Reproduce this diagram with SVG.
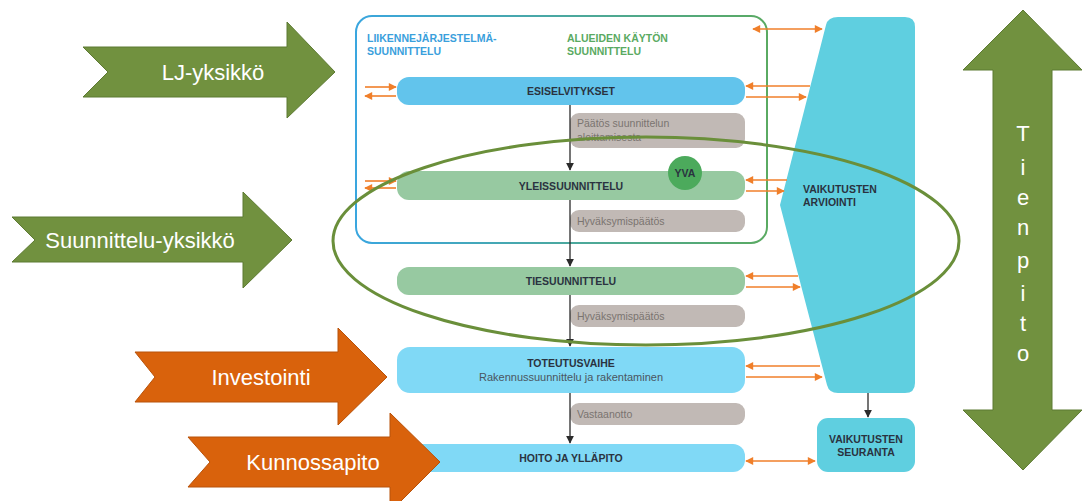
<svg xmlns="http://www.w3.org/2000/svg" width="1084" height="501" viewBox="0 0 1084 501">
  <defs>
    <linearGradient id="frameGrad" x1="0" y1="0" x2="1" y2="0">
      <stop offset="0" stop-color="#3aa6df"/>
      <stop offset="1" stop-color="#5aaa62"/>
    </linearGradient>
    <marker id="oh" viewBox="0 0 10 10" refX="9" refY="5" markerWidth="10" markerHeight="8" markerUnits="userSpaceOnUse" orient="auto-start-reverse">
      <path d="M0,0 L10,5 L0,10 z" fill="#f07f2a"/>
    </marker>
    <marker id="kh" viewBox="0 0 10 10" refX="9" refY="5" markerWidth="8" markerHeight="8" markerUnits="userSpaceOnUse" orient="auto">
      <path d="M0,0 L10,5 L0,10 z" fill="#2b2b2b"/>
    </marker>
  </defs>
  <style>
    .garrow { fill: #71913f; stroke: #5d7a32; stroke-width: 1; }
    .oarrow { fill: #d9620c; stroke: #b8520a; stroke-width: 1; }
    .alabel { font-family: "Liberation Sans", Arial, sans-serif; font-size: 22px; fill: #ffffff; text-anchor: middle; }
    .bar-text { font-family: "Liberation Sans", Arial, sans-serif; font-size: 10.5px; font-weight: bold; fill: #2a3340; text-anchor: middle; }
    .side-text { font-family: "Liberation Sans", Arial, sans-serif; font-size: 10.5px; font-weight: bold; fill: #2a3340; }
    .sub-text { font-family: "Liberation Sans", Arial, sans-serif; font-size: 11px; fill: #4a5560; text-anchor: middle; }
    .grey { fill: #c1b9b5; }
    .grey-text { font-family: "Liberation Sans", Arial, sans-serif; font-size: 10.5px; fill: #7a7470; }
    .hdr { font-family: "Liberation Sans", Arial, sans-serif; font-size: 10.5px; font-weight: bold; }
    .oline { stroke: #f07f2a; stroke-width: 1.6; fill: none; }
    .kline { stroke: #2b2b2b; stroke-width: 1.3; fill: none; }
  </style>

  <rect width="1084" height="501" fill="#ffffff"/>

  <!-- Organisation arrows on the left -->
  <g id="lj-yksikko">
    <polygon class="garrow" points="83,47 287,47 287,22 335,72 287,118 287,97 83,97 108,72"/>
    <text class="alabel" x="213" y="80">LJ-yksikkö</text>
  </g>
  <g id="suunnittelu-yksikko">
    <polygon class="garrow" points="12,217 243,217 243,192 292,240 243,288 243,262 12,262 35,240"/>
    <text class="alabel" x="140" y="248">Suunnittelu-yksikkö</text>
  </g>
  <g id="investointi">
    <polygon class="oarrow" points="135,352 338,352 338,328 387,377 338,425 338,402 135,402 155,377"/>
    <text class="alabel" x="261" y="385">Investointi</text>
  </g>

  <!-- Planning frame -->
  <g id="suunnittelu-kehys">
    <rect x="356" y="16" width="411" height="227" rx="16" fill="none" stroke="url(#frameGrad)" stroke-width="2"/>
    <text class="hdr" x="367" y="42" fill="#3aa0dc">LIIKENNEJÄRJESTELMÄ-</text>
    <text class="hdr" x="367" y="55" fill="#3aa0dc">SUUNNITTELU</text>
    <text class="hdr" x="567" y="42" fill="#5aaa62">ALUEIDEN KÄYTÖN</text>
    <text class="hdr" x="567" y="55" fill="#5aaa62">SUUNNITTELU</text>
  </g>

  <!-- Impact assessment wedge -->
  <g id="vaikutusten-arviointi">
    <path d="M838,17 L905,17 Q915,17 915,27 L915,383 Q915,393 905,393 L838,393 Q829,393 827,385 L780,205 L826,25 Q828,17 838,17 z" fill="#5fcfe0"/>
    <text class="side-text" x="803" y="193">VAIKUTUSTEN</text>
    <text class="side-text" x="803" y="206">ARVIOINTI</text>
  </g>
  <g id="vaikutusten-seuranta">
    <rect x="817" y="418" width="98" height="54" rx="11" fill="#5fcfe0"/>
    <text class="bar-text" x="866" y="443">VAIKUTUSTEN</text>
    <text class="bar-text" x="866" y="456">SEURANTA</text>
  </g>

  <!-- Decision labels -->
  <g id="paatos-aloittamisesta">
    <rect class="grey" x="570" y="113" width="175" height="35" rx="9"/>
    <text class="grey-text" x="577" y="127">Päätös suunnittelun</text>
    <text class="grey-text" x="577" y="141">aloittamisesta</text>
  </g>
  <g id="hyvaksymispaatos-1">
    <rect class="grey" x="570" y="210" width="175" height="22" rx="9"/>
    <text class="grey-text" x="577" y="225">Hyväksymispäätös</text>
  </g>
  <g id="hyvaksymispaatos-2">
    <rect class="grey" x="570" y="305" width="175" height="22" rx="9"/>
    <text class="grey-text" x="577" y="320">Hyväksymispäätös</text>
  </g>
  <g id="vastaanotto">
    <rect class="grey" x="570" y="403" width="175" height="22" rx="9"/>
    <text class="grey-text" x="577" y="418">Vastaanotto</text>
  </g>

  <!-- Phase bars -->
  <g id="esiselvitykset">
    <rect x="397" y="77" width="348" height="28" rx="12" fill="#62c4ec"/>
    <text class="bar-text" x="571" y="95">ESISELVITYKSET</text>
  </g>
  <g id="yleissuunnittelu">
    <rect x="397" y="171" width="348" height="29" rx="12" fill="#97c9a1"/>
    <text class="bar-text" x="571" y="190">YLEISSUUNNITTELU</text>
  </g>
  <g id="yva">
    <circle cx="685" cy="173" r="17" fill="#4caa5c"/>
    <text class="bar-text" x="685" y="177">YVA</text>
  </g>
  <g id="tiesuunnittelu">
    <rect x="397" y="267" width="348" height="28" rx="12" fill="#97c9a1"/>
    <text class="bar-text" x="571" y="285">TIESUUNNITTELU</text>
  </g>
  <g id="toteutusvaihe">
    <rect x="397" y="347" width="348" height="46" rx="13" fill="#80d9f6"/>
    <text class="bar-text" x="571" y="367">TOTEUTUSVAIHE</text>
    <text class="sub-text" x="571" y="381">Rakennussuunnittelu ja rakentaminen</text>
  </g>
  <g id="hoito-ja-yllapito">
    <rect x="397" y="444" width="348" height="28" rx="12" fill="#80d9f6"/>
    <text class="bar-text" x="571" y="462">HOITO JA YLLÄPITO</text>
  </g>

  <!-- Connectors -->
  <g id="connectors">
    <!-- process flow -->
    <line class="kline" x1="570" y1="105" x2="570" y2="170" marker-end="url(#kh)"/>
    <line class="kline" x1="570" y1="200" x2="570" y2="266" marker-end="url(#kh)"/>
    <line class="kline" x1="570" y1="295" x2="570" y2="346" marker-end="url(#kh)"/>
    <line class="kline" x1="570" y1="393" x2="570" y2="443" marker-end="url(#kh)"/>
    <line class="kline" x1="868" y1="393" x2="868" y2="417" marker-end="url(#kh)"/>

    <!-- left side exchanges -->
    <line class="oline" x1="365" y1="87" x2="396" y2="87" marker-end="url(#oh)"/>
    <line class="oline" x1="396" y1="96" x2="365" y2="96" marker-end="url(#oh)"/>
    <line class="oline" x1="365" y1="181" x2="396" y2="181" marker-end="url(#oh)"/>
    <line class="oline" x1="396" y1="188" x2="365" y2="188" marker-end="url(#oh)"/>

    <!-- right side exchanges -->
    <line class="oline" x1="753" y1="29" x2="822" y2="29" marker-start="url(#oh)" marker-end="url(#oh)"/>
    <line class="oline" x1="810" y1="86" x2="746" y2="86" marker-end="url(#oh)"/>
    <line class="oline" x1="746" y1="97" x2="806" y2="97" marker-end="url(#oh)"/>
    <line class="oline" x1="787" y1="180" x2="746" y2="180" marker-end="url(#oh)"/>
    <line class="oline" x1="746" y1="191" x2="784" y2="191" marker-end="url(#oh)"/>
    <line class="oline" x1="798" y1="276" x2="746" y2="276" marker-end="url(#oh)"/>
    <line class="oline" x1="746" y1="287" x2="800" y2="287" marker-end="url(#oh)"/>
    <line class="oline" x1="820" y1="366" x2="746" y2="366" marker-end="url(#oh)"/>
    <line class="oline" x1="746" y1="377" x2="822" y2="377" marker-end="url(#oh)"/>
    <line class="oline" x1="746" y1="461" x2="815" y2="461" marker-start="url(#oh)" marker-end="url(#oh)"/>
  </g>

  <!-- Maintenance arrow overlapping the last bar -->
  <g id="kunnossapito">
    <polygon class="oarrow" points="188,437 390,437 390,413 440,462 390,512 390,487 188,487 210,462"/>
    <text class="alabel" x="313" y="470">Kunnossapito</text>
  </g>

  <!-- Road management time axis -->
  <g id="tienpito">
    <polygon class="garrow" points="1023,10 1082,70 1052,70 1052,410 1082,410 1023,470 963,410 993,410 993,70 963,70"/>
    <g class="alabel">
      <text x="1023" y="141">T</text>
      <text x="1023" y="175">i</text>
      <text x="1023" y="205">e</text>
      <text x="1023" y="235">n</text>
      <text x="1023" y="268">p</text>
      <text x="1023" y="301">i</text>
      <text x="1023" y="331">t</text>
      <text x="1023" y="361">o</text>
    </g>
  </g>

  <!-- Planning unit scope -->
  <g id="suunnitteluyksikon-alue">
    <ellipse cx="646" cy="241" rx="313" ry="104" fill="none" stroke="#6a8f3a" stroke-width="3"/>
  </g>
</svg>
